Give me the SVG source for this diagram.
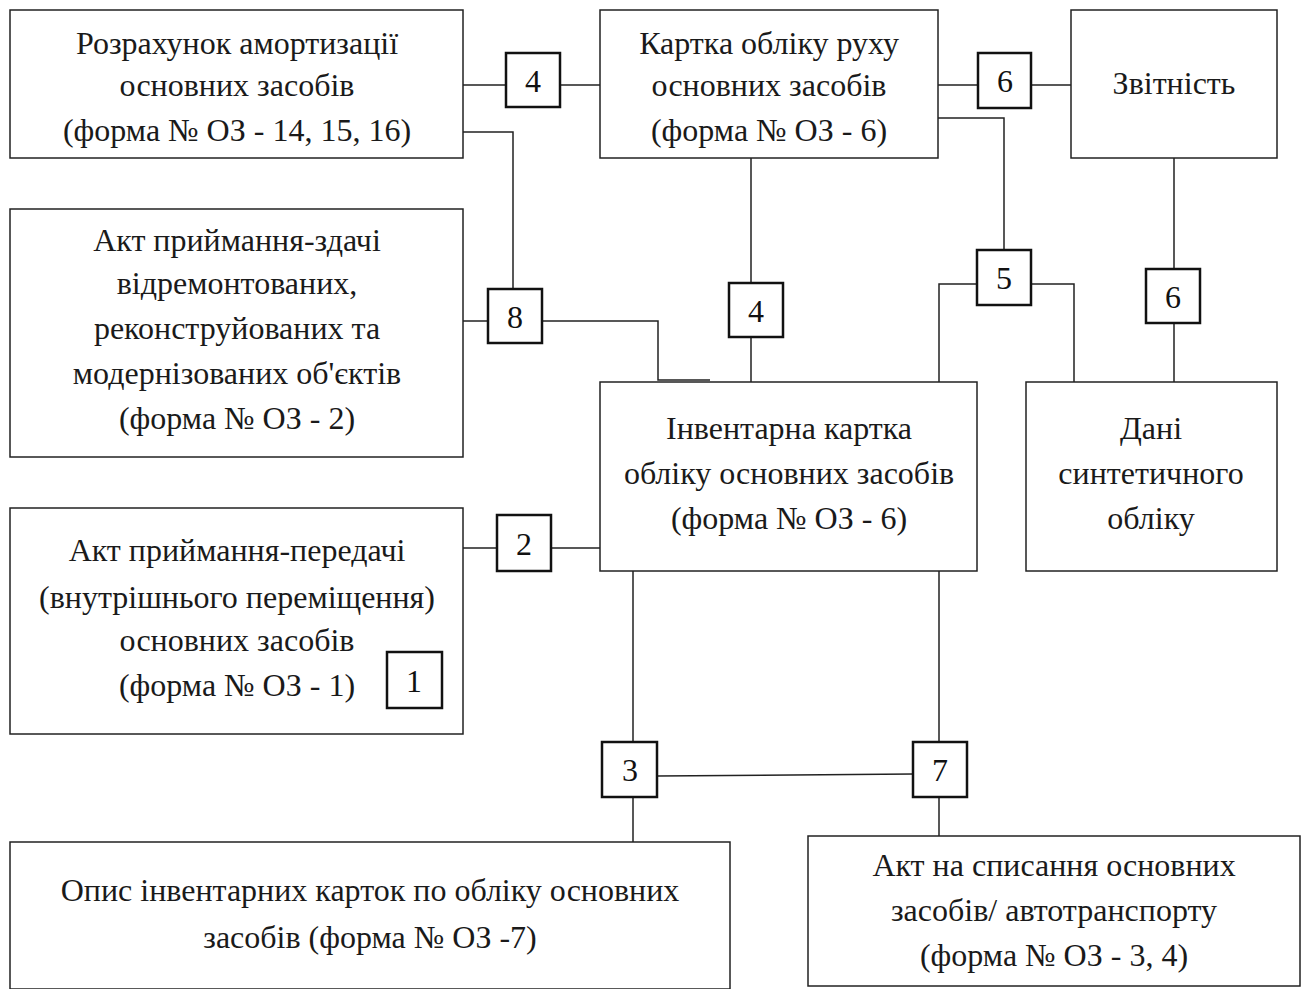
<svg xmlns="http://www.w3.org/2000/svg" width="1312" height="989" viewBox="0 0 1312 989">
<style>
.box{fill:#fff;stroke:#222;stroke-width:1.5}
.sb{fill:#fff;stroke:#111;stroke-width:2.5}
.t{font-family:"Liberation Serif","Times New Roman",serif;font-size:32px;fill:#1a1a1a;text-anchor:middle}
.n{font-family:"Liberation Serif","Times New Roman",serif;font-size:32px;fill:#111;text-anchor:middle}
.c{fill:none;stroke:#222;stroke-width:1.5}
</style>
<rect width="1312" height="989" fill="#fff"/>
<g id="connectors">
<path class="c" d="M463 85H506M560 85H600"/>
<path class="c" d="M463 132H513V289"/>
<path class="c" d="M463 321H488M542 321H658V380H710"/>
<path class="c" d="M751 158V283M751 337V382"/>
<path class="c" d="M938 85H978M1031 85H1071"/>
<path class="c" d="M938 118H1004V250"/>
<path class="c" d="M977 284H939V383H832"/>
<path class="c" d="M1031 284H1074V382"/>
<path class="c" d="M1174 158V269M1174 323V382"/>
<path class="c" d="M463 548H497M551 548H600"/>
<path class="c" d="M633 571V742M633 797V842"/>
<path class="c" d="M939 571V742M939 797V836"/>
<path class="c" d="M657 776L913 774"/>
</g>
<g id="n-amort"><rect class="box" x="10" y="10" width="453" height="148"/>
<text class="t" x="237" y="54">Розрахунок амортизації</text>
<text class="t" x="237" y="96">основних засобів</text>
<text class="t" x="237" y="141">(форма № ОЗ - 14, 15, 16)</text></g>
<g id="n-kartka-rukhu"><rect class="box" x="600" y="10" width="338" height="148"/>
<text class="t" x="769" y="54">Картка обліку руху</text>
<text class="t" x="769" y="96">основних засобів</text>
<text class="t" x="769" y="141">(форма № ОЗ - 6)</text></g>
<g id="n-zvitnist"><rect class="box" x="1071" y="10" width="206" height="148"/>
<text class="t" x="1174" y="94">Звітність</text></g>
<g id="n-akt-zdachi"><rect class="box" x="10" y="209" width="453" height="248"/>
<text class="t" x="237" y="251">Акт приймання-здачі</text>
<text class="t" x="237" y="294">відремонтованих,</text>
<text class="t" x="237" y="339">реконструйованих та</text>
<text class="t" x="237" y="384">модернізованих об'єктів</text>
<text class="t" x="237" y="429">(форма № ОЗ - 2)</text></g>
<g id="n-inv-kartka"><rect class="box" x="600" y="382" width="377" height="189"/>
<text class="t" x="789" y="439">Інвентарна картка</text>
<text class="t" x="789" y="484">обліку основних засобів</text>
<text class="t" x="789" y="529">(форма № ОЗ - 6)</text></g>
<g id="n-dani"><rect class="box" x="1026" y="382" width="251" height="189"/>
<text class="t" x="1151" y="439">Дані</text>
<text class="t" x="1151" y="484">синтетичного</text>
<text class="t" x="1151" y="529">обліку</text></g>
<g id="n-akt-peredachi"><rect class="box" x="10" y="508" width="453" height="226"/>
<text class="t" x="237" y="561">Акт приймання-передачі</text>
<text class="t" x="237" y="608">(внутрішнього переміщення)</text>
<text class="t" x="237" y="651">основних засобів</text>
<text class="t" x="237" y="696">(форма № ОЗ - 1)</text></g>
<g id="n-opys"><rect class="box" x="10" y="842" width="720" height="147"/>
<text class="t" x="370" y="901">Опис інвентарних карток по обліку основних</text>
<text class="t" x="370" y="948">засобів (форма № ОЗ -7)</text></g>
<g id="n-akt-spysannia"><rect class="box" x="808" y="836" width="492" height="150"/>
<text class="t" x="1054" y="876">Акт на списання основних</text>
<text class="t" x="1054" y="921">засобів/ автотранспорту</text>
<text class="t" x="1054" y="966">(форма № ОЗ - 3, 4)</text></g>
<g id="b4a"><rect class="sb" x="506" y="53" width="54" height="54"/><text class="n" x="533" y="92">4</text></g>
<g id="b6a"><rect class="sb" x="978" y="53" width="53" height="55"/><text class="n" x="1005" y="92">6</text></g>
<g id="b8"><rect class="sb" x="488" y="289" width="54" height="54"/><text class="n" x="515" y="328">8</text></g>
<g id="b4b"><rect class="sb" x="729" y="283" width="54" height="54"/><text class="n" x="756" y="322">4</text></g>
<g id="b5"><rect class="sb" x="977" y="250" width="54" height="55"/><text class="n" x="1004" y="289">5</text></g>
<g id="b6b"><rect class="sb" x="1146" y="269" width="54" height="54"/><text class="n" x="1173" y="308">6</text></g>
<g id="b2"><rect class="sb" x="497" y="515" width="54" height="56"/><text class="n" x="524" y="555">2</text></g>
<g id="b1"><rect class="sb" x="387" y="652" width="55" height="56"/><text class="n" x="414" y="692">1</text></g>
<g id="b3"><rect class="sb" x="602" y="742" width="55" height="55"/><text class="n" x="630" y="781">3</text></g>
<g id="b7"><rect class="sb" x="913" y="742" width="54" height="55"/><text class="n" x="940" y="781">7</text></g>
</svg>
